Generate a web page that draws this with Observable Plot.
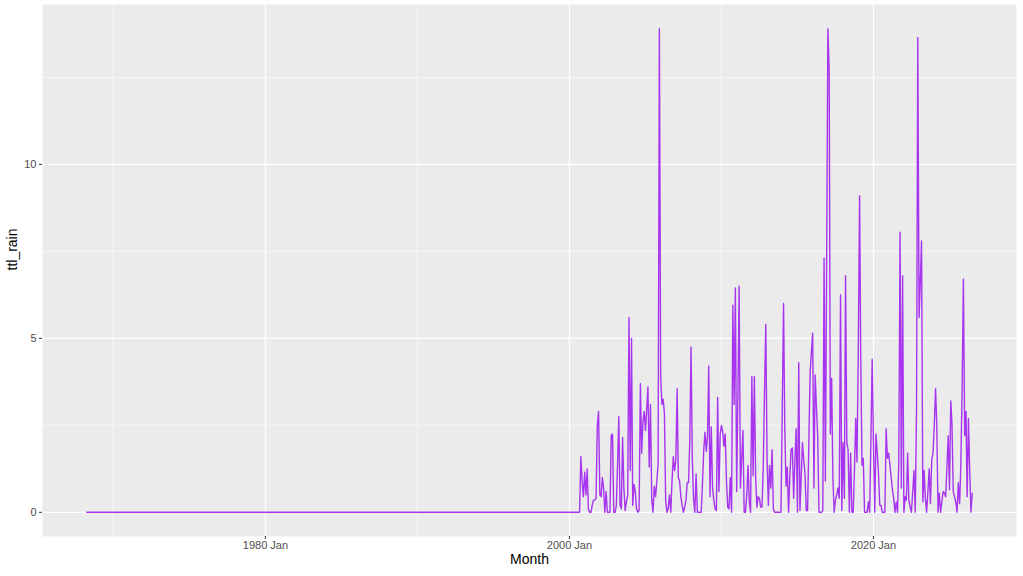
<!DOCTYPE html>
<html><head><meta charset="utf-8">
<script src="https://cdn.jsdelivr.net/npm/d3@7"></script>
<script src="https://cdn.jsdelivr.net/npm/@observablehq/plot@0.6"></script>
<style>body{margin:0;background:#fff;} svg{display:block;}</style>
</head><body><div id="chart"></div>
<script>
// Early record (flat zero) and the monthly series from 2000 Jan
const earlyMonths = ["1968-04"];
const earlyRain = [0];
const seriesStart = "2000-01";
const rain = [
  0,0,0,0,0,0,0,0,0,
  1.6,0.9,0.45,1.15,0.5,1.25,0.1,0,0,0.2,0.35,
  0.35,0.4,2.5,2.9,0.5,0.45,1.0,0.7,0,0.6,
  0,0,0,2.2,2.25,0,0,0.2,1.3,2.75,
  0.2,0.1,2.15,0.7,0.05,0.3,0.5,5.6,1.2,5.0,
  0.2,0.8,0.6,0.1,0,0.05,3.7,1.7,2.6,2.9,
  2.35,3.0,3.6,1.3,3.1,0.35,0,0.75,0.45,0.9,
  1.4,13.9,3.9,3.1,3.25,2.85,0.35,0,0.1,0.5,
  0,0.9,1.6,1.2,1.5,3.55,1.0,0.9,0.45,0.2,
  0,0.15,0.35,0.85,0.85,2.0,4.75,1.5,0.4,0,
  1.1,0,0,0,0,0.8,1.8,2.3,1.75,2.2,
  4.2,0.45,2.45,0.7,0.35,0.1,0.05,3.3,0.6,2.25,
  2.5,2.3,1.9,2.25,0.9,0.15,0.1,1.0,0,5.95,
  3.1,6.45,0.6,3.5,6.5,0.7,1.5,2.35,0,0,
  0.5,1.35,0.3,0,3.9,1.05,3.9,1.0,0.15,0.45,
  0.4,0.15,0.15,1.3,3.5,5.4,1.5,0.2,1.35,0.7,
  1.8,0.1,0,0,0,0,0,0,3.0,6.0,
  2.5,0.75,1.3,0,1.0,1.8,1.85,0.4,1.5,2.4,
  0,4.3,0.05,1.0,2.0,1.5,1.1,0.05,0.05,2.0,
  4.0,4.6,5.15,0.7,3.95,3.0,2.2,0,0,0,
  0.05,7.3,0.9,7.0,13.9,12.7,2.25,3.85,1.0,0,
  0.35,0.5,0.7,0.4,6.25,0.05,2.0,0.4,6.8,2.0,
  1.8,0,1.7,0,0,1.2,2.7,1.45,4.5,9.1,
  4.5,1.35,1.55,0,0,0,0.3,0,2.1,4.4,
  2.0,0,2.25,1.7,1.1,0.2,0.2,0,0,0,
  2.4,1.55,1.7,1.35,1.0,0.65,0.4,0,0.3,0,
  1.5,8.05,0.7,6.8,0,0.45,0.35,1.7,0.35,0.15,
  0,0.6,1.2,0,3.0,13.65,5.6,6.7,7.8,0.3,
  1.2,0.4,0,0.6,1.25,0.25,1.5,1.7,2.5,3.55,
  2.5,0,0.55,0,0.3,0.6,0.55,0.45,1.3,2.2,
  0.65,3.2,2.55,0.6,0.45,0.3,0,0.85,0.25,1.4,
  3.6,6.7,2.2,2.9,0.45,2.7,1.2,0,0.55
];
const xTickMonths = ["1980-01","2000-01","2020-01"];
const xMinorMonths = ["1970-01","1990-01","2010-01"];
const yTicks = [0,5,10];
const yMinor = [2.5,7.5,12.5];
const xTitle = "Month";
const yTitle = "ttl_rain";

const parse = d3.utcParse("%Y-%m");
const data = [
  ...earlyMonths.map((m,i)=>({month: parse(m), ttl_rain: earlyRain[i]})),
  ...rain.map((v,i)=>({month: d3.utcMonth.offset(parse(seriesStart), i), ttl_rain: v}))
];
const [x0,x1] = d3.extent(data, d=>d.month);
const xpad = (x1-x0)*0.05;
const [y0,y1] = d3.extent(data, d=>d.ttl_rain);
const ypad = (y1-y0)*0.05;

const chart = Plot.plot({
  width: 1023, height: 576,
  marginLeft: 42, marginRight: 7, marginTop: 4, marginBottom: 40,
  style: {fontFamily: "'Liberation Sans', Arial, sans-serif", background: "#fff", overflow: "visible"},
  x: {type: "utc", domain: [new Date(+x0 - xpad), new Date(+x1 + xpad)]},
  y: {domain: [y0 - ypad, y1 + ypad]},
  marks: [
    Plot.frame({fill: "#EBEBEB"}),
    Plot.ruleX(xMinorMonths.map(parse), {stroke: "#fff", strokeWidth: 0.65}),
    Plot.ruleY(yMinor, {stroke: "#fff", strokeWidth: 0.65}),
    Plot.ruleX(xTickMonths.map(parse), {stroke: "#fff", strokeWidth: 1.3}),
    Plot.ruleY(yTicks, {stroke: "#fff", strokeWidth: 1.3}),
    Plot.line(data, {x: "month", y: "ttl_rain", stroke: "#A020F0", strokeWidth: 1.4, strokeOpacity: 0.9}),
    Plot.axisX(xTickMonths.map(parse), {tickFormat: d3.utcFormat("%Y %b"), tickSize: 3, tickPadding: 2, fontSize: 11, stroke: "#333", fill: "#4D4D4D", label: null}),
    Plot.axisY(yTicks, {tickSize: 3, tickPadding: 3, fontSize: 11, stroke: "#333", fill: "#4D4D4D", label: null}),
    Plot.text([xTitle], {text: d => d, frameAnchor: "bottom", dy: 27, fontSize: 14, fill: "#000"}),
    Plot.text([yTitle], {text: d => d, frameAnchor: "left", dx: -30, rotate: -90, fontSize: 14, fill: "#000"})
  ]
});
document.getElementById("chart").appendChild(chart);
</script>
</body></html>
